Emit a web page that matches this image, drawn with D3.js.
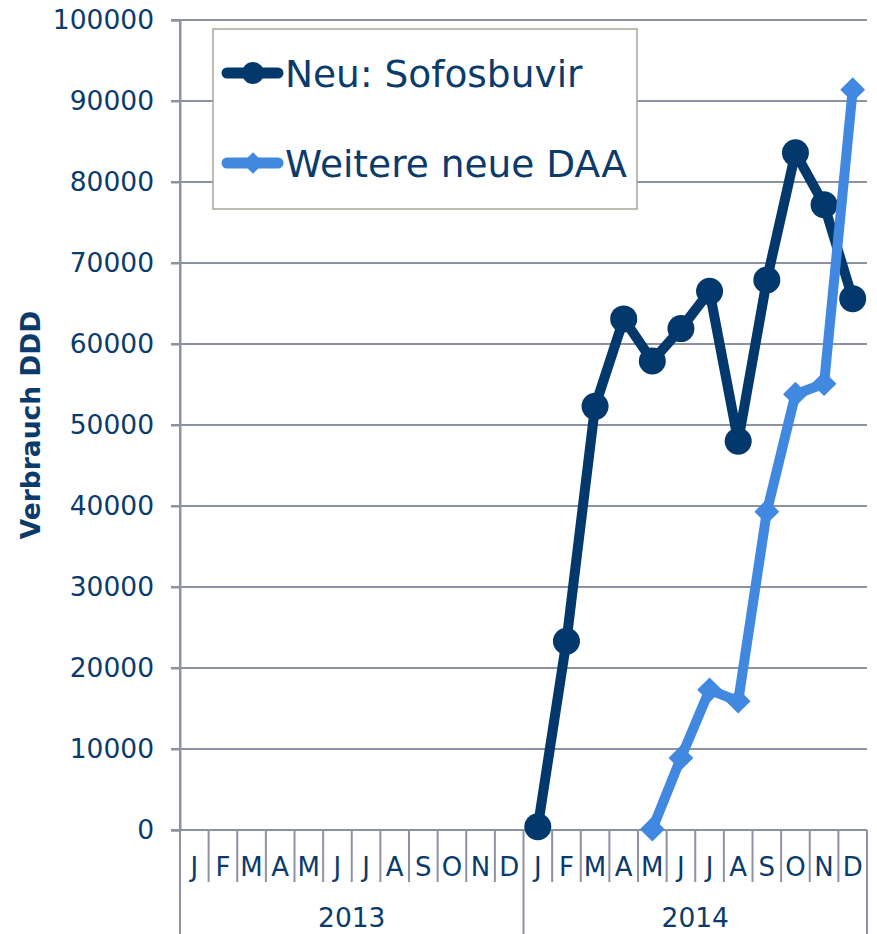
<!DOCTYPE html>
<html>
<head>
<meta charset="utf-8">
<script src="https://cdn.jsdelivr.net/npm/d3@7"></script>
<style>
  body { margin: 0; background: #fff; }
  svg text { font-family: Verdana, "DejaVu Sans", sans-serif; fill: #0b3b6b; }
</style>
</head>
<body>
<div id="chart"></div>
<script>
(function () {
  var months = ['J', 'F', 'M', 'A', 'M', 'J', 'J', 'A', 'S', 'O', 'N', 'D'];
  var years = ['2013', '2014'];
  var yTicks = [0, 10000, 20000, 30000, 40000, 50000, 60000, 70000, 80000, 90000, 100000];

  // one value per month, 2013-01 .. 2014-12, null = no data
  var sofosbuvir = [
    null, null, null, null, null, null, null, null, null, null, null, null,
    400, 23300, 52300, 63100, 57900, 61900, 66500, 48000, 67900, 83600, 77200, 65600
  ];
  var weitereDAA = [
    null, null, null, null, null, null, null, null, null, null, null, null,
    null, null, null, null, 100, 8900, 17300, 15900, 39300, 53800, 55100, 91400
  ];

  var seriesNames = ['Neu: Sofosbuvir', 'Weitere neue DAA'];
  var seriesColors = ['#02386b', '#4189e0'];

  var W = 877, H = 934;
  var left = 180, right = 867, top = 20, bottom = 830;
  var gridColor = '#8d92a3';

  var svg = d3.select('#chart').append('svg')
      .attr('width', W)
      .attr('height', H);

  var slots = [];
  years.forEach(function (y, yi) {
    months.forEach(function (m, mi) {
      slots.push(yi * 12 + mi);
    });
  });

  var x = d3.scaleBand()
      .domain(slots)
      .range([left, right])
      .padding(0);

  var y = d3.scaleLinear()
      .domain([0, 100000])
      .range([bottom, top]);

  // horizontal gridlines
  svg.append('g')
    .selectAll('line')
    .data(yTicks)
    .join('line')
      .attr('x1', left - 9)
      .attr('x2', right)
      .attr('y1', function (d) { return y(d); })
      .attr('y2', function (d) { return y(d); })
      .attr('stroke', gridColor)
      .attr('stroke-width', 2);

  // y axis
  var yAxis = svg.append('g')
      .attr('transform', 'translate(' + left + ',0)')
      .call(d3.axisLeft(y).tickValues(yTicks).tickSize(9).tickPadding(17)
          .tickFormat(d3.format('d')));
  yAxis.select('.domain').attr('stroke', gridColor).attr('stroke-width', 2);
  yAxis.selectAll('.tick line').attr('stroke', gridColor).attr('stroke-width', 2);
  yAxis.selectAll('.tick text')
      .attr('font-size', 26.5)
      .attr('fill', '#0b3b6b')
      .style('font-family', 'Verdana, "DejaVu Sans", sans-serif');

  // category axis: month separators
  var sepG = svg.append('g');
  sepG.selectAll('line')
    .data(slots.slice(1))
    .join('line')
      .attr('x1', function (d) { return x(d); })
      .attr('x2', function (d) { return x(d); })
      .attr('y1', bottom)
      .attr('y2', function (d) { return d % 12 === 0 ? H : bottom + 52; })
      .attr('stroke', gridColor)
      .attr('stroke-width', 2);

  // year outer borders
  sepG.selectAll('line.edge')
    .data([left, right])
    .join('line')
      .attr('class', 'edge')
      .attr('x1', function (d) { return d; })
      .attr('x2', function (d) { return d; })
      .attr('y1', bottom)
      .attr('y2', H)
      .attr('stroke', gridColor)
      .attr('stroke-width', 2);

  // x baseline
  svg.append('line')
      .attr('x1', left - 9)
      .attr('x2', right)
      .attr('y1', bottom)
      .attr('y2', bottom)
      .attr('stroke', gridColor)
      .attr('stroke-width', 2);

  // y axis line
  svg.append('line')
      .attr('x1', left)
      .attr('x2', left)
      .attr('y1', top)
      .attr('y2', bottom)
      .attr('stroke', gridColor)
      .attr('stroke-width', 2);

  svg.append('g')
    .selectAll('text')
    .data(slots)
    .join('text')
      .attr('x', function (d) { return x(d) + x.bandwidth() / 2; })
      .attr('y', bottom + 46)
      .attr('text-anchor', 'middle')
      .attr('font-size', 26)
      .text(function (d) { return months[d % 12]; });

  svg.append('g')
    .selectAll('text')
    .data(years)
    .join('text')
      .attr('x', function (d, i) {
        return (x(i * 12) + x(i * 12 + 11) + x.bandwidth()) / 2;
      })
      .attr('y', bottom + 97)
      .attr('text-anchor', 'middle')
      .attr('font-size', 26.5)
      .text(function (d) { return d; });

  // y axis title
  svg.append('text')
      .attr('transform', 'translate(40,425) rotate(-90)')
      .attr('text-anchor', 'middle')
      .attr('font-size', 26.5)
      .attr('font-weight', 'bold')
      .text('Verbrauch DDD');

  // series
  var line = d3.line()
      .defined(function (d) { return d.v !== null; })
      .x(function (d) { return x(d.i) + x.bandwidth() / 2; })
      .y(function (d) { return y(d.v); });

  function toPoints(arr) {
    return arr.map(function (v, i) { return {i: i, v: v}; });
  }

  var diamond = d3.symbol().type(d3.symbolDiamond2).size(392);

  [sofosbuvir, weitereDAA].forEach(function (arr, si) {
    var pts = toPoints(arr);
    var g = svg.append('g');
    g.append('path')
        .datum(pts)
        .attr('d', line)
        .attr('fill', 'none')
        .attr('stroke', seriesColors[si])
        .attr('stroke-width', 10)
        .attr('stroke-linejoin', 'round');

    var valid = pts.filter(function (d) { return d.v !== null; });
    if (si === 0) {
      g.selectAll('circle')
        .data(valid)
        .join('circle')
          .attr('cx', function (d) { return x(d.i) + x.bandwidth() / 2; })
          .attr('cy', function (d) { return y(d.v); })
          .attr('r', 13.5)
          .attr('fill', seriesColors[si]);
    } else {
      g.selectAll('path.m')
        .data(valid)
        .join('path')
          .attr('class', 'm')
          .attr('transform', function (d) {
            return 'translate(' + (x(d.i) + x.bandwidth() / 2) + ',' + y(d.v) + ')';
          })
          .attr('d', diamond)
          .attr('fill', seriesColors[si]);
    }
  });

  // legend
  var lg = svg.append('g');
  lg.append('rect')
      .attr('x', 213)
      .attr('y', 29)
      .attr('width', 424)
      .attr('height', 180)
      .attr('fill', '#fff')
      .attr('stroke', '#a9a598')
      .attr('stroke-width', 1.5);

  seriesNames.forEach(function (name, i) {
    var cy = 73 + i * 90;
    lg.append('line')
        .attr('x1', 227)
        .attr('x2', 278)
        .attr('y1', cy)
        .attr('y2', cy)
        .attr('stroke', seriesColors[i])
        .attr('stroke-width', 11)
        .attr('stroke-linecap', 'round');
    if (i === 0) {
      lg.append('circle')
          .attr('cx', 253)
          .attr('cy', cy)
          .attr('r', 11)
          .attr('fill', seriesColors[i]);
    } else {
      lg.append('path')
          .attr('transform', 'translate(253,' + cy + ')')
          .attr('d', d3.symbol().type(d3.symbolDiamond2).size(300))
          .attr('fill', seriesColors[i]);
    }
    lg.append('text')
        .attr('x', 285)
        .attr('y', cy + 14)
        .attr('font-size', 37.5)
        .text(name);
  });
}());
</script>
</body>
</html>
